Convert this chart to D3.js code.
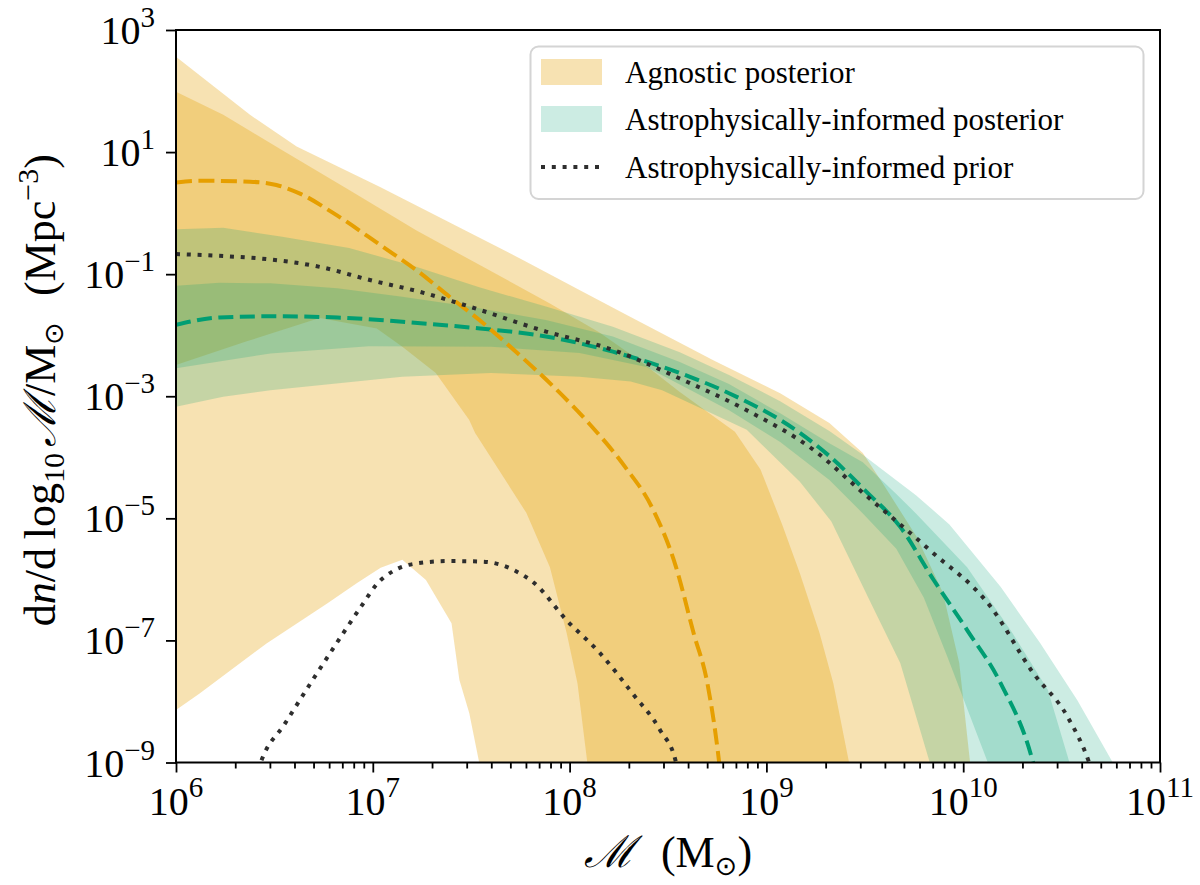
<!DOCTYPE html>
<html>
<head>
<meta charset="utf-8">
<script src="https://cdn.jsdelivr.net/npm/d3@7"></script>
<style>
  body { margin: 0; background: #fff; }
  svg text { font-family: "Liberation Serif", "DejaVu Serif", serif; fill: #000; }
</style>
</head>
<body>
<svg id="chart" width="1200" height="885"></svg>
<script>
// all points are [log10 M, log10 dn/dlog10M]
const agnOuterHi = [[6.0,2.56],[6.376,1.61],[6.613,1.09],[7.037,0.43],[7.765,-0.77],[8.05,-1.26],[8.31,-1.70],[8.73,-2.41],[9.07,-2.95],[9.32,-3.44],[9.49,-3.93],[9.59,-4.42],[9.765,-5.31],[9.897,-6.22],[9.98,-7.37],[10.035,-9.0],[10.05,-9.6]];
const agnOuterLo = [[6.0,-8.14],[6.12,-7.87],[6.46,-7.05],[6.77,-6.39],[6.92,-6.06],[7.04,-5.81],[7.15,-5.68],[7.27,-6.01],[7.40,-6.72],[7.44,-7.65],[7.49,-8.19],[7.54,-8.99],[7.56,-9.6]];
const agnInnerHi = [[6.0,1.99],[6.24,1.61],[6.54,1.03],[6.88,0.38],[7.22,-0.28],[7.56,-0.88],[7.90,-1.48],[8.15,-1.95],[8.35,-2.4],[8.56,-2.93],[8.84,-3.58],[8.97,-4.2],[9.08,-5.1],[9.17,-5.90],[9.27,-6.88],[9.34,-7.70],[9.42,-9.0],[9.44,-9.6]];
const agnInnerLo = [[6.0,-2.49],[6.36,-2.1],[6.73,-1.72],[7.02,-1.89],[7.15,-2.19],[7.32,-2.62],[7.49,-3.39],[7.52,-3.6],[7.78,-4.91],[7.90,-5.80],[7.985,-6.88],[8.04,-7.70],[8.09,-9.0],[8.10,-9.6]];
const agnMedian = [[6.0,0.50],[6.12,0.53],[6.376,0.515],[6.51,0.46],[6.63,0.32],[6.80,0.0],[7.05,-0.55],[7.22,-0.93],[7.39,-1.37],[7.56,-1.80],[7.73,-2.28],[7.93,-2.88],[8.10,-3.45],[8.28,-4.15],[8.42,-4.83],[8.54,-5.79],[8.63,-6.88],[8.70,-7.70],[8.76,-9.0],[8.78,-9.6]];

const astroOuterHi = [[6.0,-0.265],[6.24,-0.24],[6.54,-0.385],[6.88,-0.57],[7.22,-0.88],[7.545,-1.22],[7.88,-1.53],[8.22,-1.86],[8.56,-2.28],[8.81,-2.65],[9.07,-3.08],[9.32,-3.57],[9.49,-3.96],[9.76,-4.62],[9.93,-5.1],[10.19,-6.12],[10.39,-7.04],[10.58,-7.98],[10.76,-9.0],[10.8,-9.6]];
const astroOuterLo = [[6.0,-3.17],[6.24,-3.01],[6.48,-2.90],[7.15,-2.68],[7.60,-2.62],[8.05,-2.68],[8.31,-2.76],[8.47,-2.90],[8.65,-3.17],[8.9,-3.55],[9.17,-4.4],[9.33,-5.05],[9.54,-6.45],[9.68,-7.37],[9.83,-9.0],[9.86,-9.6]];
const astroInnerHi = [[6.0,-1.19],[6.22,-1.14],[6.48,-1.15],[6.82,-1.23],[7.15,-1.37],[7.49,-1.53],[7.88,-1.75],[8.22,-2.02],[8.56,-2.44],[8.81,-2.80],[9.07,-3.28],[9.32,-3.77],[9.49,-4.08],[9.66,-4.6],[9.76,-4.92],[10.02,-5.80],[10.25,-6.88],[10.43,-7.81],[10.54,-9.0],[10.58,-9.6]];
const astroInnerLo = [[6.0,-2.54],[6.48,-2.30],[6.98,-2.18],[7.60,-2.19],[8.05,-2.29],[8.39,-2.52],[8.81,-3.23],[9.07,-3.75],[9.32,-4.37],[9.49,-4.92],[9.66,-5.5],[9.80,-6.3],[9.92,-7.27],[10.125,-9.0],[10.16,-9.6]];
const astroMedian = [[6.0,-1.83],[6.22,-1.71],[6.48,-1.69],[6.82,-1.71],[7.15,-1.78],[7.545,-1.89],[7.88,-2.02],[8.22,-2.27],[8.56,-2.62],[8.81,-2.95],[9.17,-3.60],[9.32,-3.98],[9.51,-4.57],[9.68,-5.14],[9.85,-6.01],[10.02,-6.83],[10.19,-7.70],[10.355,-9.0],[10.40,-9.6]];

const priorHi = [[6.0,-0.67],[6.22,-0.70],[6.48,-0.76],[6.73,-0.88],[6.99,-1.10],[7.24,-1.29],[7.49,-1.53],[7.88,-1.94],[8.22,-2.24],[8.56,-2.71],[8.90,-3.23],[9.24,-3.88],[9.49,-4.58],[9.83,-5.52],[10.14,-6.45],[10.355,-7.53],[10.53,-8.25],[10.64,-9.0],[10.68,-9.4]];
const priorLo = [[6.40,-9.3],[6.435,-8.96],[6.55,-8.38],[6.70,-7.62],[6.85,-6.88],[6.95,-6.40],[7.02,-6.08],[7.10,-5.87],[7.22,-5.74],[7.39,-5.70],[7.56,-5.71],[7.73,-5.87],[7.82,-6.06],[7.985,-6.67],[8.155,-7.21],[8.32,-7.87],[8.46,-8.47],[8.54,-8.99],[8.56,-9.3]];

// ticks
const xMajorExp = [6, 7, 8, 9, 10, 11];
const yMajorExp = [3, 1, -1, -3, -5, -7, -9];
const minorSubs = [2, 3, 4, 5, 6, 7, 8, 9];

const legendLabels = ['Agnostic posterior', 'Astrophysically-informed posterior', 'Astrophysically-informed prior'];

const orange = '#E69F00';
const green = '#009E73';
const priorColor = '#2e2e2e';

const mLeft = 176, mRight = 1160, mTop = 30, mBottom = 762.5;

const svg = d3.select('#chart');

const x = d3.scaleLog().domain([1e6, 1e11]).range([mLeft, mRight]);
const y = d3.scaleLog().domain([1e-9, 1e3]).range([mBottom, mTop]);

const px = d => x(Math.pow(10, d[0]));
const py = d => y(Math.pow(10, d[1]));

svg.append('defs').append('clipPath').attr('id', 'plot-clip')
    .append('rect')
    .attr('x', mLeft).attr('y', mTop)
    .attr('width', mRight - mLeft).attr('height', mBottom - mTop);

const plot = svg.append('g').attr('clip-path', 'url(#plot-clip)');

const poly = d3.line().x(px).y(py);
const curve = d3.line().x(px).y(py).curve(d3.curveMonotoneX);

function band(hi, lo, color, alpha) {
    const pts = hi.concat(lo.slice().reverse());
    plot.append('path')
        .attr('d', poly(pts) + 'Z')
        .attr('fill', color)
        .attr('fill-opacity', alpha)
        .attr('stroke', 'none');
}

// agnostic bands first, then astro bands on top
band(agnOuterHi, agnOuterLo, orange, 0.3);
band(agnInnerHi, agnInnerLo, orange, 0.3);
band(astroOuterHi, astroOuterLo, green, 0.2);
band(astroInnerHi, astroInnerLo, green, 0.2);

function drawLine(data, color, dash) {
    plot.append('path')
        .attr('d', curve(data))
        .attr('fill', 'none')
        .attr('stroke', color)
        .attr('stroke-width', 4)
        .attr('stroke-dasharray', dash);
}

drawLine(astroMedian, green, '15 6.5');
drawLine(agnMedian, orange, '16 6.5');
drawLine(priorHi, priorColor, '4 6.8');
drawLine(priorLo, priorColor, '4 6.8');

// axes
const xMajor = xMajorExp.map(e => Math.pow(10, e));
const xMinor = [];
xMajorExp.slice(0, -1).forEach(e => minorSubs.forEach(s => xMinor.push(s * Math.pow(10, e))));
const yMajor = yMajorExp.map(e => Math.pow(10, e));

const gx = svg.append('g').attr('transform', `translate(0,${mBottom})`);
gx.call(d3.axisBottom(x).tickValues(xMajor).tickSize(10).tickFormat(''));
const gxm = svg.append('g').attr('transform', `translate(0,${mBottom})`);
gxm.call(d3.axisBottom(x).tickValues(xMinor).tickSize(6).tickFormat(''));
const gy = svg.append('g').attr('transform', `translate(${mLeft},0)`);
gy.call(d3.axisLeft(y).tickValues(yMajor).tickSize(10).tickFormat(''));

[gx, gxm, gy].forEach(g => {
    g.select('.domain').remove();
    g.selectAll('.tick line').attr('stroke', '#000').attr('stroke-width', 1.8);
});

// frame
svg.append('rect')
    .attr('x', mLeft).attr('y', mTop)
    .attr('width', mRight - mLeft).attr('height', mBottom - mTop)
    .attr('fill', 'none').attr('stroke', '#000').attr('stroke-width', 2);

function expText(e) { return e < 0 ? '\u2212' + Math.abs(e) : String(e); }

// x tick labels
xMajorExp.forEach(e => {
    const t = svg.append('text')
        .attr('x', x(Math.pow(10, e)))
        .attr('y', 815)
        .attr('text-anchor', 'middle')
        .attr('font-size', 40);
    t.append('tspan').text('10');
    t.append('tspan').attr('font-size', 29).attr('dy', -18).text(expText(e));
});

// y tick labels
yMajorExp.forEach(e => {
    const t = svg.append('text')
        .attr('x', 155)
        .attr('y', y(Math.pow(10, e)) + 14)
        .attr('text-anchor', 'end')
        .attr('font-size', 40);
    t.append('tspan').text('10');
    t.append('tspan').attr('font-size', 29).attr('dy', -17).text(expText(e));
});

// x label
const xl = svg.append('text')
    .attr('x', (mLeft + mRight) / 2)
    .attr('y', 867)
    .attr('text-anchor', 'middle')
    .attr('font-size', 44);
xl.append('tspan').attr('font-family', 'DejaVu Serif').attr('font-style', 'italic').text('\u2133');
xl.append('tspan').attr('dx', 26).text('(M');
xl.append('tspan').attr('font-family', 'DejaVu Sans').attr('font-size', 27).attr('dy', 8).text('\u2299');
xl.append('tspan').attr('dy', -8).text(')');

// y label
const yl = svg.append('text')
    .attr('transform', `translate(55,${(mTop + mBottom) / 2 - 6}) rotate(-90)`)
    .attr('text-anchor', 'middle')
    .attr('font-size', 44);
yl.append('tspan').text('d');
yl.append('tspan').attr('font-style', 'italic').text('n');
yl.append('tspan').text('/d\u2009log');
yl.append('tspan').attr('font-size', 30).attr('dy', 9).text('10');
yl.append('tspan').attr('dy', -9).attr('dx', 6).attr('font-family', 'DejaVu Serif').attr('font-style', 'italic').text('\u2133');
yl.append('tspan').text('/M');
yl.append('tspan').attr('font-family', 'DejaVu Sans').attr('font-size', 27).attr('dy', 8).text('\u2299');
yl.append('tspan').attr('dy', -8).attr('dx', 26).text('(Mpc');
yl.append('tspan').attr('font-size', 30).attr('dy', -17).text('\u22123');
yl.append('tspan').attr('dy', 17).text(')');

// legend
const lg = svg.append('g');
lg.append('rect')
    .attr('x', 530.5).attr('y', 46.5)
    .attr('width', 613).attr('height', 152.5)
    .attr('rx', 8).attr('ry', 8)
    .attr('fill', '#fff').attr('fill-opacity', 0.8)
    .attr('stroke', '#d4d4d4').attr('stroke-width', 2);

const rowY = [72, 119, 167];
lg.append('rect').attr('x', 541).attr('y', rowY[0] - 13).attr('width', 61).attr('height', 26)
    .attr('fill', orange).attr('fill-opacity', 0.3);
lg.append('rect').attr('x', 541).attr('y', rowY[1] - 13).attr('width', 61).attr('height', 26)
    .attr('fill', green).attr('fill-opacity', 0.2);
lg.append('line').attr('x1', 541).attr('x2', 602).attr('y1', rowY[2]).attr('y2', rowY[2])
    .attr('stroke', priorColor).attr('stroke-width', 4).attr('stroke-dasharray', '4 6.8');

legendLabels.forEach((s, i) => {
    lg.append('text')
        .attr('x', 625)
        .attr('y', rowY[i] + 11)
        .attr('font-size', 31)
        .text(s);
});
</script>
</body>
</html>
